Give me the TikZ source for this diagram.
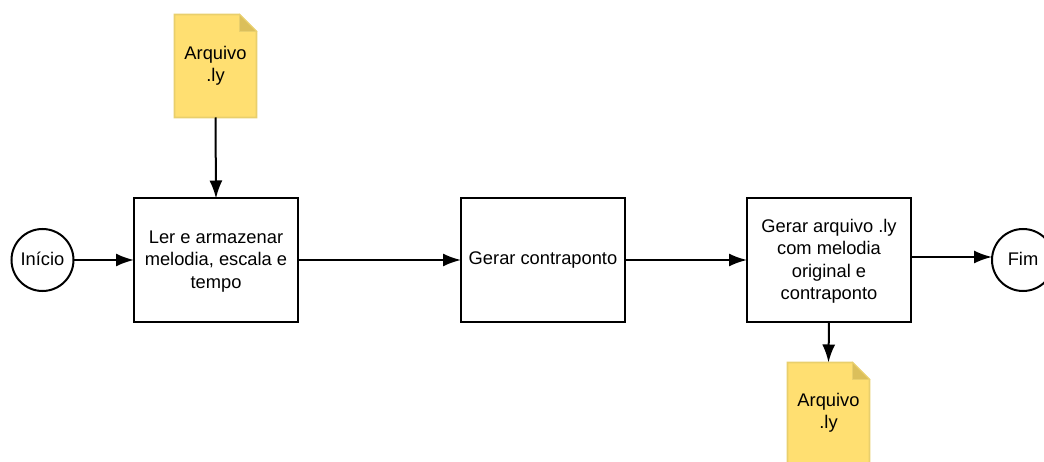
\documentclass[tikz,border=0pt]{standalone}
\usepackage{fontspec}
\setmainfont{Liberation Sans}
\usetikzlibrary{arrows.meta}
\definecolor{docfill}{HTML}{FFDF71}
\definecolor{docedge}{HTML}{E9CF6C}
\definecolor{docfold}{HTML}{DBBF5B}
\tikzset{
  x=1pt,y=-1pt,
  every node/.style={font=\fontsize{18.3}{22.5}\selectfont,align=center,inner sep=0pt,outer sep=0pt},
  procbox/.style={draw=black,line width=2pt,fill=white,minimum width=164pt,minimum height=123pt},
  term/.style={circle,draw=black,line width=2pt,fill=white,minimum size=62pt},
  docnode/.style={minimum width=82pt,minimum height=103pt},
  docoutline/.style={draw=docedge,line width=1.6pt,fill=docfill,line join=miter},
  docflap/.style={fill=docfold,draw=docedge,line width=.8pt},
  conn/.style={draw=black,line width=2pt,-{Latex[length=18pt,width=13pt]}}
}
\newcommand{\docshape}[1]{%
  \path[docoutline] (#1.north west) -- ([xshift=-17pt]#1.north east) -- ([yshift=-17pt]#1.north east) -- (#1.south east) -- (#1.south west) -- cycle;
  \path[docflap] ([xshift=-17pt]#1.north east) -- ([yshift=-17pt]#1.north east) -- ([xshift=-17pt,yshift=-17pt]#1.north east) -- cycle;
}
\begin{document}
\begin{tikzpicture}
\useasboundingbox (0,0) rectangle (1044,462);
\clip (0,0) rectangle (1044,462);
\fill[white] (0,0) rectangle (1044,462);

\node[docnode] (docA) at (215.5,66) {};
\node[docnode] (docB) at (828.5,414) {};
\docshape{docA}
\docshape{docB}
\node at (215.5,66) {Arquivo\\.ly};
\node at (828.5,413) {Arquivo\\.ly};

\node[term] (ini) at (42.5,260) {\raisebox{1.5pt}{Início}};
\node[procbox] (ler) at (216,260) {\rule{0pt}{15.5pt}Ler e armazenar\\melodia, escala e\\tempo};
\node[procbox] (con) at (543,260) {\raisebox{1.5pt}{Gerar contraponto}};
\node[procbox] (ger) at (829,260) {\rule{0pt}{15.5pt}Gerar arquivo .ly\\com melodia\\original e\\contraponto};
\node[term] (fim) at (1023,260) {\raisebox{1.5pt}{Fim}};

\coordinate (g1) at (911,257);
\coordinate (f1) at (992,257);

\draw[conn] (docA.south) -- (ler.north);
\draw[conn] (ini.east) -- (ler.west);
\draw[conn] (ler.east) -- (con.west);
\draw[conn] (con.east) -- (ger.west);
\draw[conn] (g1) -- (f1);
\draw[conn] (ger.south) -- (docB.north);
\end{tikzpicture}
\end{document}
